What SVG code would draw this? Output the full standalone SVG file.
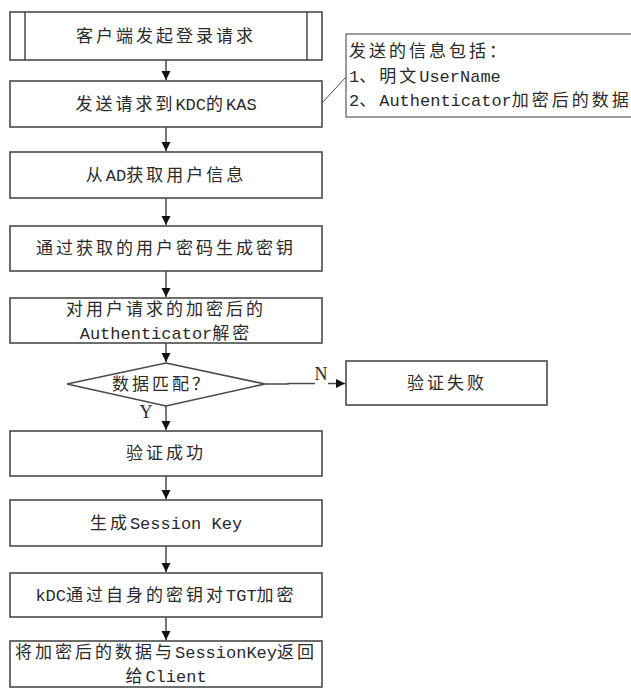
<svg xmlns="http://www.w3.org/2000/svg" width="631" height="698" viewBox="0 0 631 698">
<style>
.box{fill:#fff;stroke:#4a4a4a;stroke-width:1.6}
.note{fill:#fff;stroke:#5a5a5a;stroke-width:1.2}
.ln{fill:none;stroke:#4a4a4a;stroke-width:1.5}
text{font-family:"Liberation Mono","Noto Sans CJK SC",monospace;font-size:17px;fill:#2a2a2a}
.m{text-anchor:middle}
.c{letter-spacing:3px}
.s{font-family:"Liberation Serif","Noto Sans CJK SC",serif;font-size:18px}
</style>
<defs>
<marker id="ah" markerWidth="10" markerHeight="10" refX="9" refY="5" orient="auto" markerUnits="userSpaceOnUse">
<path d="M0,0.5 L9,5 L0,9.5 Z" fill="#111"/>
</marker>
</defs>
<rect width="631" height="698" fill="#fff"/>
<g id="connectors">
<line class="ln" x1="166" y1="60" x2="166" y2="80" marker-end="url(#ah)"/>
<line class="ln" x1="166" y1="127" x2="166" y2="151" marker-end="url(#ah)"/>
<line class="ln" x1="166" y1="198" x2="166" y2="225" marker-end="url(#ah)"/>
<line class="ln" x1="166" y1="271" x2="166" y2="297" marker-end="url(#ah)"/>
<line class="ln" x1="166" y1="343" x2="166" y2="362" marker-end="url(#ah)"/>
<line class="ln" x1="166" y1="406" x2="166" y2="430" marker-end="url(#ah)"/>
<line class="ln" x1="166" y1="476" x2="166" y2="499" marker-end="url(#ah)"/>
<line class="ln" x1="166" y1="546" x2="166" y2="572" marker-end="url(#ah)"/>
<line class="ln" x1="166" y1="617" x2="166" y2="640" marker-end="url(#ah)"/>
<polyline class="ln" points="265,384 288,384 288,383.5 315,383.5"/>
<line class="ln" x1="328" y1="383.5" x2="345" y2="383.5" marker-end="url(#ah)"/>
<line class="ln" x1="322" y1="103" x2="346" y2="77" style="stroke-width:1"/>
<text x="321" y="380" class="m s">N</text>
<text x="146" y="418" class="m s">Y</text>
</g>
<g id="n1">
<rect class="box" x="10" y="12" width="312" height="48"/>
<line class="ln" x1="25" y1="12" x2="25" y2="60"/>
<line class="ln" x1="307" y1="12" x2="307" y2="60"/>
<text x="166" y="42" class="m"><tspan class="c">客户端发起登录请求</tspan></text>
</g>
<g id="n2">
<rect class="box" x="10" y="81" width="312" height="46"/>
<text x="166" y="110" class="m"><tspan class="c">发送请求到</tspan>KDC<tspan class="c">的</tspan>KAS</text>
</g>
<g id="note">
<rect class="note" x="346" y="34" width="300" height="83"/>
<text x="349" y="57"><tspan class="c">发送的信息包括：</tspan></text>
<text x="349" y="82">1<tspan class="c">、明文</tspan>UserName</text>
<text x="349" y="106">2<tspan class="c">、</tspan>Authenticator<tspan class="c">加密后的数据</tspan></text>
</g>
<g id="n3">
<rect class="box" x="10" y="152" width="312" height="46"/>
<text x="166" y="181" class="m"><tspan class="c">从</tspan>AD<tspan class="c">获取用户信息</tspan></text>
</g>
<g id="n4">
<rect class="box" x="10" y="226" width="312" height="45"/>
<text x="166" y="254" class="m"><tspan class="c">通过获取的用户密码生成密钥</tspan></text>
</g>
<g id="n5">
<rect class="box" x="10" y="298" width="312" height="45"/>
<text x="166" y="315" class="m"><tspan class="c">对用户请求的加密后的</tspan></text>
<text x="166" y="339" class="m">Authenticator<tspan class="c">解密</tspan></text>
</g>
<g id="d1">
<polygon class="box" points="166,363 265,384 166,406 67,384"/>
<text x="162" y="390" class="m"><tspan class="c">数据匹配？</tspan></text>
</g>
<g id="fail">
<rect class="box" x="346" y="361" width="201" height="44"/>
<text x="447" y="389" class="m"><tspan class="c">验证失败</tspan></text>
</g>
<g id="n6">
<rect class="box" x="10" y="431" width="312" height="45"/>
<text x="166" y="459" class="m"><tspan class="c">验证成功</tspan></text>
</g>
<g id="n7">
<rect class="box" x="10" y="500" width="312" height="46"/>
<text x="166" y="529" class="m"><tspan class="c">生成</tspan>Session Key</text>
</g>
<g id="n8">
<rect class="box" x="10" y="573" width="312" height="44"/>
<text x="166" y="601" class="m">kDC<tspan class="c">通过自身的密钥对</tspan>TGT<tspan class="c">加密</tspan></text>
</g>
<g id="n9">
<rect class="box" x="10" y="641" width="312" height="46"/>
<text x="166" y="658" class="m"><tspan class="c">将加密后的数据与</tspan>SessionKey<tspan class="c">返回</tspan></text>
<text x="166" y="682" class="m"><tspan class="c">给</tspan>Client</text>
</g>
</svg>
